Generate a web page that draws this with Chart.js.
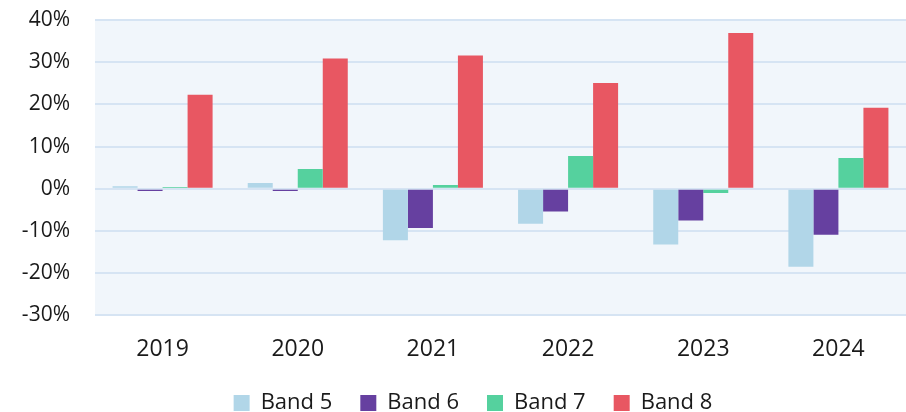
<!DOCTYPE html>
<html>
<head>
<meta charset="utf-8">
<script src="https://cdn.jsdelivr.net/npm/chart.js@4.4.1/dist/chart.umd.min.js"></script>
<style>
  html, body { margin: 0; padding: 0; background: #ffffff; }
  #wrap { width: 906px; height: 412px; position: relative; }
</style>
</head>
<body>
<div id="wrap"><canvas id="chart"></canvas></div>
<script>
// Year-over-year change by band, in percent
const years = ['2019', '2020', '2021', '2022', '2023', '2024'];
const band5 = [0.6, 1.4, -12.2, -8.3, -13.2, -18.5];
const band6 = [-0.5, -0.5, -9.3, -5.4, -7.5, -10.9];
const band7 = [0.4, 4.7, 0.9, 7.8, -1.0, 7.3];
const band8 = [22.3, 30.9, 31.6, 25.1, 36.9, 19.2];
const yTicks = [-30, -20, -10, 0, 10, 20, 30, 40];

const FONT = "'Open Sans', 'Noto Sans', sans-serif";

// Light panel behind the plotting area
const plotBackground = {
  id: 'plotBackground',
  beforeDraw(chart) {
    const { ctx, chartArea: a } = chart;
    ctx.save();
    ctx.fillStyle = '#f1f6fb';
    ctx.fillRect(a.left, a.top, a.right - a.left, a.bottom - a.top);
    ctx.restore();
  }
};

// Compact legend strip: keep wide spacing between items but a shorter box
const compactLegend = {
  id: 'compactLegend',
  afterInit(chart) {
    const lg = chart.legend;
    if (!lg) return;
    const baseFit = lg.fit.bind(lg);
    lg.fit = function () {
      baseFit();
      this.height = Math.max(0, this.height - 31);
    };
    lg.draw = function () {
      if (!this.options.display) return;
      const ctx = this.ctx;
      ctx.save();
      ctx.translate(20, -19);
      this._draw();
      ctx.restore();
    };
  }
};

const series = [
  { label: 'Band 5', data: band5, color: '#b1d6e8' },
  { label: 'Band 6', data: band6, color: '#6640a0' },
  { label: 'Band 7', data: band7, color: '#55d19e' },
  { label: 'Band 8', data: band8, color: '#e85762' }
];

new Chart(document.getElementById('chart'), {
  type: 'bar',
  data: {
    labels: years,
    datasets: series.map(s => ({
      label: s.label,
      data: s.data,
      backgroundColor: s.color,
      borderColor: s.color,
      borderWidth: 0,
      categoryPercentage: 0.74,
      barPercentage: 1.0
    }))
  },
  options: {
    responsive: true,
    maintainAspectRatio: false,
    animation: false,
    layout: { padding: { top: 20, right: 0, bottom: 0, left: 0 } },
    plugins: {
      legend: {
        position: 'bottom',
        labels: {
          font: { family: FONT, size: 22 },
          color: '#1a1a1a',
          boxWidth: 16,
          boxHeight: 16,
          padding: 28
        }
      },
      tooltip: { enabled: false }
    },
    scales: {
      x: {
        grid: { display: false, drawTicks: false },
        border: { display: false },
        ticks: {
          font: { family: FONT, size: 23 },
          color: '#1a1a1a',
          padding: 20
        }
      },
      y: {
        min: -30,
        max: 40,
        afterBuildTicks(scale) {
          scale.ticks = yTicks.map(v => ({ value: v }));
        },
        afterFit(scale) {
          scale.width = 95;
          scale.paddingTop = 0;
          scale.paddingBottom = 0;
        },
        grid: { color: '#d6e4f3', lineWidth: 2, drawTicks: false },
        border: { display: false },
        ticks: {
          font: { family: FONT, size: 21 },
          color: '#1a1a1a',
          padding: 25,
          callback: v => v + '%'
        }
      }
    }
  },
  plugins: [plotBackground, compactLegend]
});
</script>
</body>
</html>
